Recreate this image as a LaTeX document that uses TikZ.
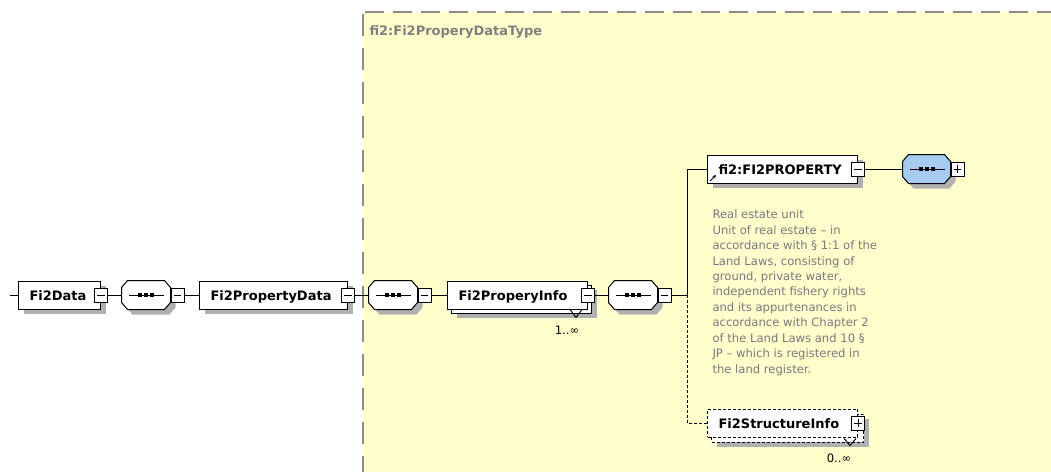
\documentclass[tikz,border=0pt]{standalone}
\usepackage{fontspec}
\setmainfont{DejaVu Sans}
\usetikzlibrary{calc,arrows.meta}

\definecolor{typebg}{RGB}{255,255,204}
\definecolor{typeframe}{RGB}{140,140,140}
\definecolor{typetitle}{RGB}{128,128,128}
\definecolor{shadowgray}{RGB}{176,176,176}
\definecolor{seqblue}{RGB}{166,202,240}
\definecolor{doctext}{RGB}{120,120,128}

% octagonal outline of a sequence compositor, built on a rectangle node
\newcommand\octpath[1]{([xshift=6pt]#1.north west) -- ([xshift=-6pt]#1.north east) -- ([yshift=-7pt]#1.north east) -- ([yshift=7pt]#1.south east) -- ([xshift=-6pt]#1.south east) -- ([xshift=6pt]#1.south west) -- ([yshift=7pt]#1.south west) -- ([yshift=-7pt]#1.north west) -- cycle}

% sequence compositor: shadow, octagon and the dotted bar
\newcommand\seqgroup[2]{%
  \fill[shadowgray, transform canvas={xshift=5pt,yshift=-5pt}] \octpath{#1};
  \filldraw[fill=#2] \octpath{#1};
  \draw ([xshift=-17pt]#1.center) -- ([xshift=18pt]#1.center);
  \foreach \d in {-6,0,6} \fill ([xshift=\d pt]#1.center) ++(-2,-2) rectangle ++(4,4);
}

\begin{document}
\begin{tikzpicture}[x=1pt, y=-1pt, line width=1pt,
  every node/.style={inner sep=0pt},
  shadowed/.style={preaction={fill=shadowgray, transform canvas={xshift=5pt, yshift=-5pt}}},
  elembox/.style={draw, fill=white, rectangle, minimum height=28pt, inner xsep=11pt, inner ysep=0pt,
    text height=11pt, text depth=0pt, align=left, font=\bfseries\fontsize{13}{14}\selectfont, anchor=west},
  stackbox/.style={draw, fill=white, rectangle, minimum height=28pt, anchor=west},
  seqspot/.style={rectangle, minimum width=48pt, minimum height=28pt},
  pmbox/.style={draw, fill=white, rectangle, minimum width=13pt, minimum height=14pt, line width=0.9pt},
  minusbox/.style={pmbox, path picture={\draw[line width=0.9pt] ([xshift=2.7pt]path picture bounding box.west) -- ([xshift=-2.7pt]path picture bounding box.east);}},
  plusbox/.style={pmbox, path picture={\draw[line width=0.9pt] ([xshift=2.7pt]path picture bounding box.west) -- ([xshift=-2.7pt]path picture bounding box.east) ([yshift=-2.7pt]path picture bounding box.north) -- ([yshift=2.7pt]path picture bounding box.south);}},
  occurs/.style={font=\fontsize{11.6}{13}\selectfont},
  optline/.style={dash pattern=on 3pt off 2pt},
]
\useasboundingbox (0,0) rectangle (1051,472);

% complex type area
\fill[typebg] (363,12) rectangle (1051,472);
\draw[typeframe, line width=2pt, dash pattern=on 19pt off 9pt] (365,12) -- (1051,12);
\draw[typeframe, line width=1.7pt, dash pattern=on 22pt off 12pt] (363,14) -- (363,472);
\node[anchor=base west, font=\bfseries\fontsize{13}{14}\selectfont, text=typetitle] (title) at (369,35) {fi2:Fi2ProperyDataType};

% root element and its sequence
\coordinate (stub) at (10,295);
\node[elembox, shadowed, text width=60pt] (data) at (18,295) {Fi2Data};
\node[minusbox] (datam) at (data.east) {};
\node[seqspot] (s1) at (146,295) {};
\seqgroup{s1}{white}
\node[minusbox, anchor=west] (s1m) at (s1.east) {};

\node[elembox, shadowed, text width=126pt] (pdata) at (199,295) {Fi2PropertyData};
\node[minusbox] (pdatam) at (pdata.east) {};
\node[seqspot] (s2) at (393,295) {};
\seqgroup{s2}{white}
\node[minusbox, anchor=west] (s2m) at (s2.east) {};

% repeated element
\node[stackbox, shadowed, minimum width=140pt] (infoback) at (451,299) {};
\node[elembox, text width=118pt] (info) at (447,295) {Fi2ProperyInfo};
\node[minusbox] (infom) at (info.east) {};
\draw ([xshift=-22pt,yshift=4pt]infoback.south east) -- ++(6,8) -- ++(6,-8);
\node[occurs] (infoocc) at (567,330) {1..∞};

\node[seqspot] (s3) at (633,295) {};
\seqgroup{s3}{white}
\node[minusbox, anchor=west] (s3m) at (s3.east) {};
\coordinate (junc) at (687,295);

% referenced element
\node[elembox, shadowed, text width=128pt] (prop) at (707,169) {fi2:FI2PROPERTY};
\node[minusbox] (propm) at (prop.east) {};
\draw[-{Stealth[length=3.5pt,width=3.5pt]}, line width=0.9pt] ([xshift=3pt,yshift=2.5pt]prop.south west) -- ++(6,-6);
\node[seqspot, minimum width=47pt] (s4) at (926.5,169) {};
\seqgroup{s4}{seqblue}
\node[plusbox, anchor=west] (s4p) at (s4.east) {};

\node[anchor=north west, align=left, text=doctext, font=\fontsize{11.6}{15.43}\selectfont] (doc) at (712,209.5) {%
Real estate unit\\
Unit of real estate – in\\
accordance with § 1:1 of the\\
Land Laws, consisting of\\
ground, private water,\\
independent fishery rights\\
and its appurtenances in\\
accordance with Chapter 2\\
of the Land Laws and 10 §\\
JP – which is registered in\\
the land register.};

% optional repeated element
\node[stackbox, shadowed, optline, minimum width=152pt] (structback) at (711,428) {};
\node[elembox, optline, text width=128pt] (struct) at (707,423) {Fi2StructureInfo};
\node[plusbox] (structp) at (struct.east) {};
\draw ([xshift=-20pt,yshift=4pt]structback.south east) -- ++(6,7) -- ++(6,-7);
\node[occurs] (structocc) at (839,458) {0..∞};

% connectors
\draw (stub) -- (data.west);
\draw (datam.east) -- (s1.west);
\draw (s1m.east) -- (pdata.west);
\draw (pdatam.east) -- (s2.west);
\draw (s2m.east) -- (info.west);
\draw (infom.east) -- (s3.west);
\draw (s3m.east) -- (junc);
\draw (junc) |- (prop.west);
\draw[optline] (junc) |- (struct.west);
\draw (propm.east) -- (s4.west);
\end{tikzpicture}
\end{document}
